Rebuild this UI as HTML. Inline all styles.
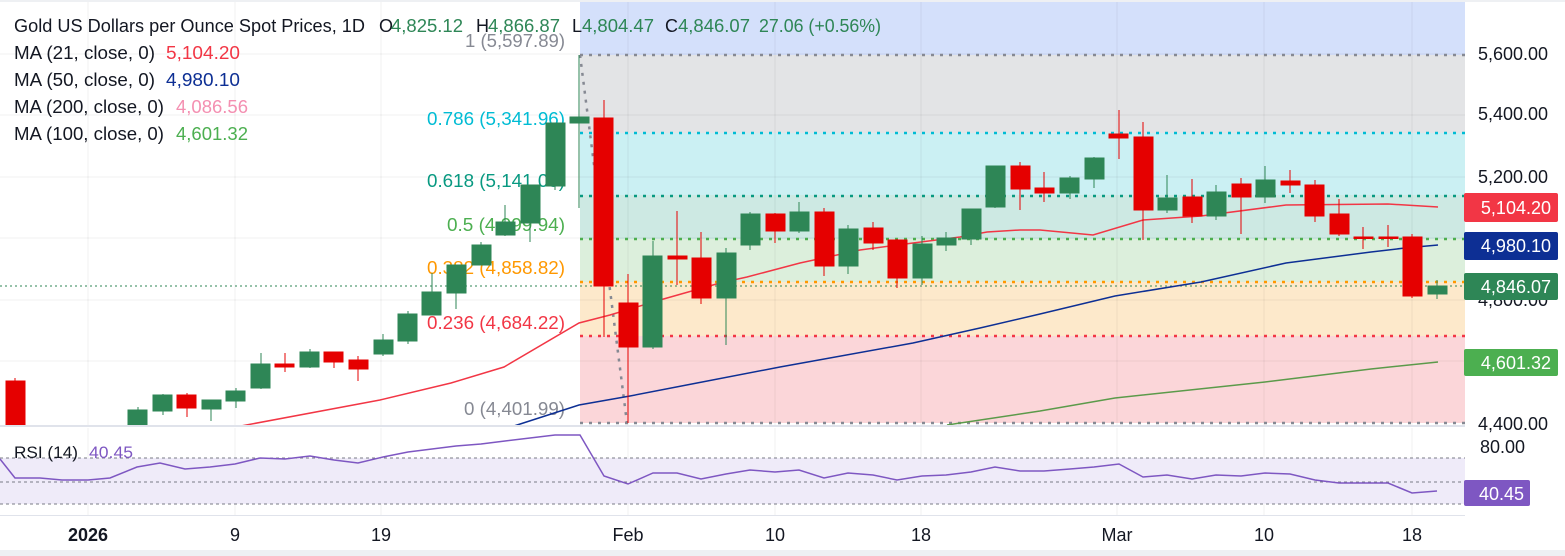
<!DOCTYPE html>
<html><head><meta charset="utf-8"><style>
html,body{margin:0;padding:0;background:#fff;}
svg{display:block;font-family:"Liberation Sans",sans-serif;}
</style></head><body>
<svg width="1565" height="556" viewBox="0 0 1565 556" xmlns="http://www.w3.org/2000/svg">
<rect width="1565" height="556" fill="#fff"/>
<rect x="580" y="0" width="885" height="55" fill="#d4e0fb"/>
<rect x="580" y="55" width="885" height="78" fill="#e3e4e6"/>
<rect x="580" y="133" width="885" height="62" fill="#cbf0f3"/>
<rect x="580" y="195" width="885" height="44" fill="#cde9e3"/>
<rect x="580" y="239" width="885" height="43" fill="#dcefdc"/>
<rect x="580" y="282" width="885" height="54" fill="#fde9cb"/>
<rect x="580" y="336" width="885" height="87" fill="#fbd6d9"/>
<g stroke="#000" stroke-opacity="0.06" stroke-width="1">
<line x1="0" y1="54" x2="1465" y2="54"/><line x1="0" y1="115" x2="1465" y2="115"/><line x1="0" y1="177" x2="1465" y2="177"/><line x1="0" y1="238" x2="1465" y2="238"/><line x1="0" y1="300" x2="1465" y2="300"/><line x1="0" y1="361" x2="1465" y2="361"/>
<line x1="88" y1="0" x2="88" y2="515"/><line x1="235" y1="0" x2="235" y2="515"/><line x1="381" y1="0" x2="381" y2="515"/><line x1="628" y1="0" x2="628" y2="515"/><line x1="775" y1="0" x2="775" y2="515"/><line x1="921" y1="0" x2="921" y2="515"/><line x1="1117" y1="0" x2="1117" y2="515"/><line x1="1264" y1="0" x2="1264" y2="515"/><line x1="1412" y1="0" x2="1412" y2="515"/>
</g>
<g stroke-width="2.5" stroke-dasharray="3 6" fill="none">
<line x1="580" y1="55" x2="1465" y2="55" stroke="#868993"/>
<line x1="580" y1="133" x2="1465" y2="133" stroke="#00bcd4"/>
<line x1="580" y1="196" x2="1465" y2="196" stroke="#089981"/>
<line x1="580" y1="239" x2="1465" y2="239" stroke="#4caf50"/>
<line x1="580" y1="282" x2="1465" y2="282" stroke="#ff9800"/>
<line x1="580" y1="336" x2="1465" y2="336" stroke="#f23645"/>
<line x1="580" y1="423" x2="1465" y2="423" stroke="#868993"/>
<line x1="580" y1="55" x2="627" y2="423" stroke="#868993"/>
</g>
<line x1="0" y1="286" x2="1465" y2="286" stroke="#2e8656" stroke-width="1" stroke-dasharray="2 3"/>
<g font-size="18">
<text x="465" y="47" fill="#868993" textLength="100" lengthAdjust="spacingAndGlyphs">1 (5,597.89)</text>
<text x="427" y="125" fill="#00bcd4" textLength="138" lengthAdjust="spacingAndGlyphs">0.786 (5,341.96)</text>
<text x="427" y="187" fill="#089981" textLength="138" lengthAdjust="spacingAndGlyphs">0.618 (5,141.03)</text>
<text x="447" y="231" fill="#4caf50" textLength="118" lengthAdjust="spacingAndGlyphs">0.5 (4,999.94)</text>
<text x="427" y="274" fill="#ff9800" textLength="138" lengthAdjust="spacingAndGlyphs">0.382 (4,858.82)</text>
<text x="427" y="329" fill="#f23645" textLength="138" lengthAdjust="spacingAndGlyphs">0.236 (4,684.22)</text>
<text x="464" y="415" fill="#868993" textLength="101" lengthAdjust="spacingAndGlyphs">0 (4,401.99)</text>
</g>
<polyline fill="none" stroke="#f23645" stroke-width="1.5" points="241,426 380,400 451,383 504,367 579,323 610,315 660,300 720,283 747,277 800,263 860,250 913,243 960,237 987,232 1020,230 1040,230 1093,235 1143,220 1201,216 1286,205 1388,204 1438,207"/>
<polyline fill="none" stroke="#0d2f94" stroke-width="1.5" points="514,426 579,405 630,396 697,383 780,367 913,343 980,328 1040,314 1115,296 1201,282 1286,263 1371,252 1405,248 1438,245"/>
<polyline fill="none" stroke="#5b9a4a" stroke-width="1.5" points="947,425 1040,411 1115,398 1265,382 1371,369 1438,362"/>
<g stroke="#e50000" fill="#e50000">
<line x1="15" y1="378" x2="15" y2="425"/><rect x="6" y="381" width="19" height="44"/>
<line x1="187" y1="393" x2="187" y2="417"/><rect x="177" y="395" width="19" height="13"/>
<line x1="285" y1="353" x2="285" y2="372"/><rect x="275" y="364" width="19" height="3"/>
<line x1="334" y1="352" x2="334" y2="368"/><rect x="324" y="352" width="19" height="10"/>
<line x1="358" y1="356" x2="358" y2="381"/><rect x="349" y="360" width="19" height="9"/>
<line x1="604" y1="100" x2="604" y2="337"/><rect x="594" y="118" width="19" height="168"/>
<line x1="628" y1="274" x2="628" y2="423"/><rect x="619" y="303" width="19" height="44"/>
<line x1="677" y1="211" x2="677" y2="285"/><rect x="668" y="256" width="19" height="3"/>
<line x1="701" y1="232" x2="701" y2="304"/><rect x="692" y="258" width="19" height="40"/>
<line x1="775" y1="213" x2="775" y2="243"/><rect x="766" y="214" width="19" height="17"/>
<line x1="824" y1="208" x2="824" y2="276"/><rect x="815" y="212" width="19" height="54"/>
<line x1="873" y1="222" x2="873" y2="250"/><rect x="864" y="228" width="19" height="15"/>
<line x1="897" y1="239" x2="897" y2="288"/><rect x="888" y="240" width="19" height="38"/>
<line x1="1020" y1="162" x2="1020" y2="210"/><rect x="1011" y="166" width="19" height="23"/>
<line x1="1044" y1="172" x2="1044" y2="202"/><rect x="1035" y="188" width="19" height="5"/>
<line x1="1119" y1="110" x2="1119" y2="159"/><rect x="1109" y="134" width="19" height="4"/>
<line x1="1143" y1="122" x2="1143" y2="240"/><rect x="1134" y="137" width="19" height="73"/>
<line x1="1192" y1="179" x2="1192" y2="223"/><rect x="1183" y="197" width="19" height="19"/>
<line x1="1241" y1="178" x2="1241" y2="234"/><rect x="1232" y="184" width="19" height="13"/>
<line x1="1290" y1="170" x2="1290" y2="193"/><rect x="1281" y="181" width="19" height="4"/>
<line x1="1315" y1="180" x2="1315" y2="222"/><rect x="1305" y="185" width="19" height="31"/>
<line x1="1339" y1="199" x2="1339" y2="236"/><rect x="1330" y="214" width="19" height="20"/>
<line x1="1363" y1="227" x2="1363" y2="249"/><rect x="1354" y="237" width="19" height="1.5"/>
<line x1="1388" y1="225" x2="1388" y2="247"/><rect x="1379" y="237" width="19" height="1.5"/>
<line x1="1412" y1="234" x2="1412" y2="298"/><rect x="1403" y="237" width="19" height="59"/>
</g>
<g stroke="#2e8656" fill="#2e8656">
<line x1="138" y1="407" x2="138" y2="425"/><rect x="128" y="410" width="19" height="15"/>
<line x1="163" y1="394" x2="163" y2="415"/><rect x="153" y="395" width="19" height="16"/>
<line x1="211" y1="400" x2="211" y2="421"/><rect x="202" y="400" width="19" height="9"/>
<line x1="236" y1="388" x2="236" y2="408"/><rect x="226" y="391" width="19" height="10"/>
<line x1="261" y1="353" x2="261" y2="389"/><rect x="251" y="364" width="19" height="24"/>
<line x1="310" y1="349" x2="310" y2="368"/><rect x="300" y="352" width="19" height="15"/>
<line x1="383" y1="334" x2="383" y2="356"/><rect x="374" y="340" width="19" height="14"/>
<line x1="408" y1="311" x2="408" y2="344"/><rect x="398" y="314" width="19" height="27"/>
<line x1="432" y1="273" x2="432" y2="315"/><rect x="422" y="292" width="19" height="23"/>
<line x1="456" y1="265" x2="456" y2="309"/><rect x="447" y="265" width="19" height="28"/>
<line x1="481" y1="242" x2="481" y2="265"/><rect x="472" y="245" width="19" height="20"/>
<line x1="505" y1="205" x2="505" y2="236"/><rect x="496" y="222" width="19" height="13"/>
<line x1="530" y1="185" x2="530" y2="242"/><rect x="521" y="185" width="19" height="38"/>
<line x1="555" y1="123" x2="555" y2="190"/><rect x="546" y="123" width="19" height="63"/>
<line x1="579" y1="55" x2="579" y2="208"/><rect x="570" y="117" width="19" height="6"/>
<line x1="653" y1="241" x2="653" y2="349"/><rect x="643" y="256" width="19" height="91"/>
<line x1="726" y1="248" x2="726" y2="345"/><rect x="717" y="253" width="19" height="45"/>
<line x1="750" y1="212" x2="750" y2="250"/><rect x="741" y="214" width="19" height="31"/>
<line x1="799" y1="202" x2="799" y2="233"/><rect x="790" y="212" width="19" height="19"/>
<line x1="848" y1="225" x2="848" y2="274"/><rect x="839" y="229" width="19" height="37"/>
<line x1="922" y1="236" x2="922" y2="285"/><rect x="913" y="244" width="19" height="34"/>
<line x1="946" y1="232" x2="946" y2="251"/><rect x="937" y="238" width="19" height="7"/>
<line x1="971" y1="209" x2="971" y2="245"/><rect x="962" y="209" width="19" height="30"/>
<line x1="995" y1="166" x2="995" y2="208"/><rect x="986" y="166" width="19" height="41"/>
<line x1="1070" y1="176" x2="1070" y2="199"/><rect x="1060" y="178" width="19" height="15"/>
<line x1="1094" y1="157" x2="1094" y2="188"/><rect x="1085" y="158" width="19" height="21"/>
<line x1="1167" y1="175" x2="1167" y2="213"/><rect x="1158" y="198" width="19" height="12"/>
<line x1="1216" y1="185" x2="1216" y2="220"/><rect x="1207" y="192" width="19" height="24"/>
<line x1="1265" y1="166" x2="1265" y2="203"/><rect x="1256" y="180" width="19" height="17"/>
<line x1="1437" y1="280" x2="1437" y2="299"/><rect x="1428" y="286" width="19" height="8"/>
</g>
<rect x="0" y="425" width="1465" height="3" fill="#fff"/>
<line x1="0" y1="426" x2="1565" y2="426" stroke="#e0e3eb" stroke-width="2"/>
<rect x="0" y="458" width="1465" height="46" fill="#efebf9"/>
<g stroke="#787b86" stroke-width="1" stroke-dasharray="3 3">
<line x1="0" y1="458" x2="1465" y2="458"/><line x1="0" y1="482" x2="1465" y2="482"/><line x1="0" y1="504" x2="1465" y2="504"/>
</g>
<polyline fill="none" stroke="#7e57c2" stroke-width="1.5" points="0,459 15,478 40,478 62,480 88,480 110,478 137,467 160,463 185,469 210,467 235,464 260,458 285,459 310,456 334,460 358,463 383,457 408,452 432,449 456,446 481,444 505,441 530,438 555,435 580,435 604,476 628,484 653,473 677,473 701,479 726,474 750,470 775,472 799,470 824,478 848,473 873,475 897,480 922,476 946,475 971,472 995,467 1020,471 1044,471 1070,469 1094,467 1119,464 1143,477 1167,475 1192,479 1216,475 1241,476 1265,473 1290,474 1315,480 1339,483 1363,483 1388,483 1412,493 1437,491"/>
<text x="14" y="458" font-size="17" fill="#131722" textLength="64" lengthAdjust="spacingAndGlyphs">RSI (14)</text>
<text x="89" y="458" font-size="17" fill="#7e57c2" textLength="44" lengthAdjust="spacingAndGlyphs">40.45</text>
<rect x="0" y="515" width="1465" height="1" fill="#e0e3eb"/>
<rect x="1465" y="0" width="100" height="556" fill="#fff"/>
<g font-size="18" fill="#131722">
<text x="1478" y="60">5,600.00</text>
<text x="1478" y="120">5,400.00</text>
<text x="1478" y="183">5,200.00</text>
<text x="1478" y="249">5,000.00</text>
<text x="1478" y="306">4,800.00</text>
<text x="1478" y="430">4,400.00</text>
<text x="1480" y="453">80.00</text>
</g>
<rect x="1464" y="193" width="94" height="29" rx="2" fill="#f23645"/>
<text x="1551" y="214" font-size="18" fill="#fff" text-anchor="end">5,104.20</text>
<rect x="1464" y="232" width="94" height="28" rx="2" fill="#0d2f94"/>
<text x="1551" y="252" font-size="18" fill="#fff" text-anchor="end">4,980.10</text>
<rect x="1464" y="273" width="94" height="27" rx="2" fill="#2e8656"/>
<text x="1551" y="293" font-size="18" fill="#fff" text-anchor="end">4,846.07</text>
<rect x="1464" y="349" width="94" height="27" rx="2" fill="#4caf50"/>
<text x="1551" y="369" font-size="18" fill="#fff" text-anchor="end">4,601.32</text>
<rect x="1464" y="480" width="66" height="26" rx="2" fill="#7e57c2"/>
<text x="1524" y="500" font-size="18" fill="#fff" text-anchor="end">40.45</text>
<g font-size="18" fill="#131722" text-anchor="middle">
<text x="88" y="541" font-weight="bold">2026</text>
<text x="235" y="541">9</text><text x="381" y="541">19</text><text x="628" y="541">Feb</text>
<text x="775" y="541">10</text><text x="921" y="541">18</text><text x="1117" y="541">Mar</text>
<text x="1264" y="541">10</text><text x="1412" y="541">18</text>
</g>
<rect x="0" y="550" width="1565" height="6" fill="#eef0f3"/>
<rect x="0" y="0" width="1565" height="2" fill="#eef0f3"/>
<g font-size="18">
<text x="14" y="32" fill="#131722" textLength="351" lengthAdjust="spacingAndGlyphs">Gold US Dollars per Ounce Spot Prices, 1D</text>
<text x="379" y="32" fill="#131722">O</text><text x="391" y="32" fill="#2e8656" textLength="72" lengthAdjust="spacingAndGlyphs">4,825.12</text>
<text x="476" y="32" fill="#131722">H</text><text x="488" y="32" fill="#2e8656" textLength="72" lengthAdjust="spacingAndGlyphs">4,866.87</text>
<text x="572" y="32" fill="#131722">L</text><text x="582" y="32" fill="#2e8656" textLength="72" lengthAdjust="spacingAndGlyphs">4,804.47</text>
<text x="665" y="32" fill="#131722">C</text><text x="678" y="32" fill="#2e8656" textLength="72" lengthAdjust="spacingAndGlyphs">4,846.07</text>
<text x="759" y="32" fill="#2e8656" textLength="122" lengthAdjust="spacingAndGlyphs">27.06 (+0.56%)</text>
<text x="14" y="59" fill="#131722" textLength="141" lengthAdjust="spacingAndGlyphs">MA (21, close, 0)</text><text x="166" y="59" fill="#f23645" textLength="74" lengthAdjust="spacingAndGlyphs">5,104.20</text>
<text x="14" y="86" fill="#131722" textLength="141" lengthAdjust="spacingAndGlyphs">MA (50, close, 0)</text><text x="166" y="86" fill="#0d2f94" textLength="74" lengthAdjust="spacingAndGlyphs">4,980.10</text>
<text x="14" y="113" fill="#131722" textLength="150" lengthAdjust="spacingAndGlyphs">MA (200, close, 0)</text><text x="176" y="113" fill="#f48fb1" textLength="72" lengthAdjust="spacingAndGlyphs">4,086.56</text>
<text x="14" y="140" fill="#131722" textLength="150" lengthAdjust="spacingAndGlyphs">MA (100, close, 0)</text><text x="176" y="140" fill="#4caf50" textLength="72" lengthAdjust="spacingAndGlyphs">4,601.32</text>
</g>
</svg>
</body></html>
